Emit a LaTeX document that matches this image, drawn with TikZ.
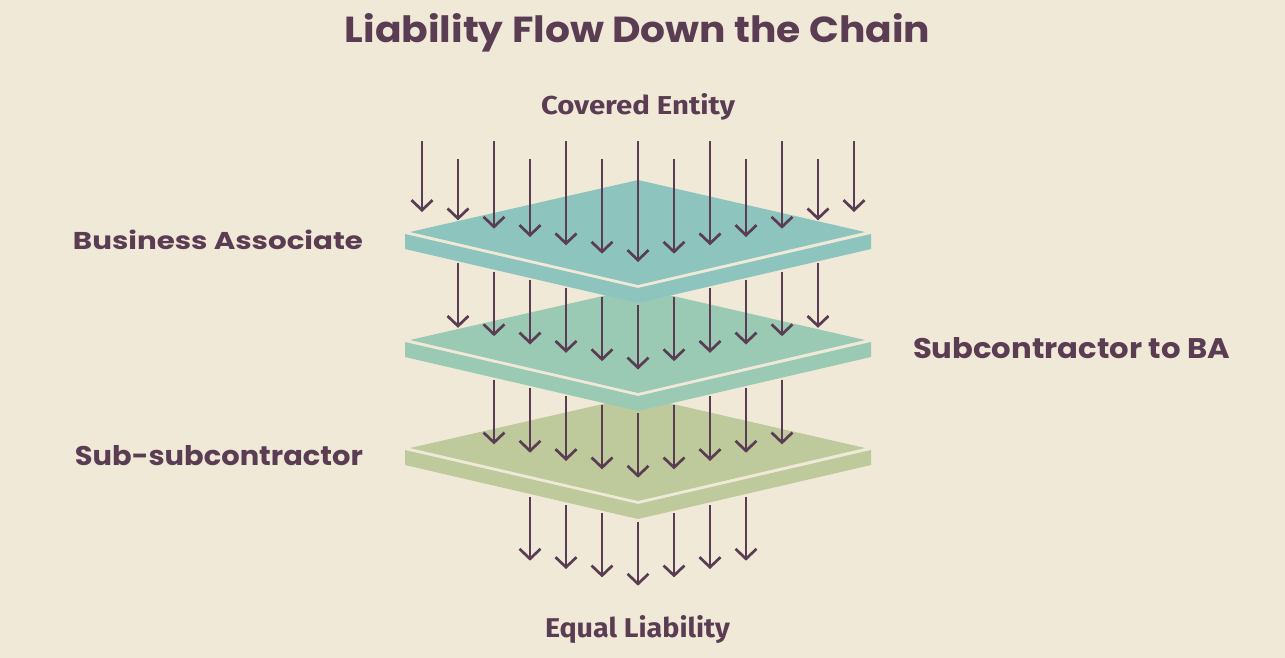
\documentclass[tikz,border=0pt]{standalone}
\usepackage{fontspec}
\usepackage{graphicx}
\usetikzlibrary{arrows.meta}
\newfontfamily\handfont{Poppins}
\newfontfamily\labfont{Fira Sans}
\definecolor{bg}{HTML}{F0E9D8}
\definecolor{ink}{HTML}{5A3D52}
\definecolor{plateA}{HTML}{8DC5BE}
\definecolor{plateB}{HTML}{9ACAB4}
\definecolor{plateC}{HTML}{BECA9C}
\begin{document}
\begin{tikzpicture}[x=1pt,y=-1pt,
  flow/.style={draw=ink, line width=2.7pt, -{Straight Barb[length=10pt,width=21pt]}},
  txt/.style={inner sep=0pt, outer sep=0pt, text=ink}]
\fill[bg] (0,0) rectangle (1285,658);
\useasboundingbox (0,0) rectangle (1285,658);
% plates, back to front
\foreach \d/\c in {216/plateC,108/plateB,0/plateA}{
  \fill[\c] (405,{234+\d}) -- (638,{288+\d}) -- (871,{234+\d}) -- (871,{249+\d}) -- (638,{303+\d}) -- (405,{249+\d}) -- cycle;
  \fill[\c] (410,{232+\d}) -- (638,{180+\d}) -- (865,{232+\d}) -- (638,{285+\d}) -- cycle;
}
% row 1
\foreach \k in {-6,...,6}{
  \pgfmathsetmacro\xx{638+36*\k}
  \pgfmathsetmacro\ys{141+18*mod(abs(\k),2)}
  \pgfmathsetmacro\ye{262-8.33*abs(\k)}
  \draw[flow] (\xx,\ys) -- (\xx,\ye);
}
% row 2
\foreach \k in {-5,...,5}{
  \pgfmathsetmacro\xx{638+36*\k}
  \pgfmathsetmacro\ys{305-8.33*abs(\k)}
  \pgfmathsetmacro\ye{369.5-8.33*abs(\k)}
  \draw[flow] (\xx,\ys) -- (\xx,\ye);
}
% row 3
\foreach \k in {-4,...,4}{
  \pgfmathsetmacro\xx{638+36*\k}
  \pgfmathsetmacro\ys{413-8.33*abs(\k)}
  \pgfmathsetmacro\ye{477.7-8.33*abs(\k)}
  \draw[flow] (\xx,\ys) -- (\xx,\ye);
}
% row 4
\foreach \k in {-3,...,3}{
  \pgfmathsetmacro\xx{638+36*\k}
  \pgfmathsetmacro\ys{521.7-8.33*abs(\k)}
  \pgfmathsetmacro\ye{585.7-8.33*abs(\k)}
  \draw[flow] (\xx,\ys) -- (\xx,\ye);
}
% texts
\node[txt, anchor=base] (title) at (637.5,43) {\resizebox{585pt}{29pt}{\handfont\bfseries Liability Flow Down the Chain}};
\node[txt, anchor=base] (ce) at (638,115) {\resizebox{194pt}{21pt}{\labfont\bfseries Covered Entity}};
\node[txt, anchor=base] (el) at (637.5,637) {\resizebox{185pt}{22pt}{\labfont\bfseries Equal Liability}};
\node[txt, anchor=base east] (ba) at (363,249.3) {\resizebox{290pt}{19.5pt}{\handfont\bfseries Business Associate}};
\node[txt, anchor=base west] (sba) at (913,358.3) {\resizebox{317pt}{21pt}{\handfont\bfseries Subcontractor to BA}};
\node[txt, anchor=base east] (ssc) at (363,465) {\resizebox{288pt}{20pt}{\handfont\bfseries Sub-subcontractor}};
\end{tikzpicture}
\end{document}
